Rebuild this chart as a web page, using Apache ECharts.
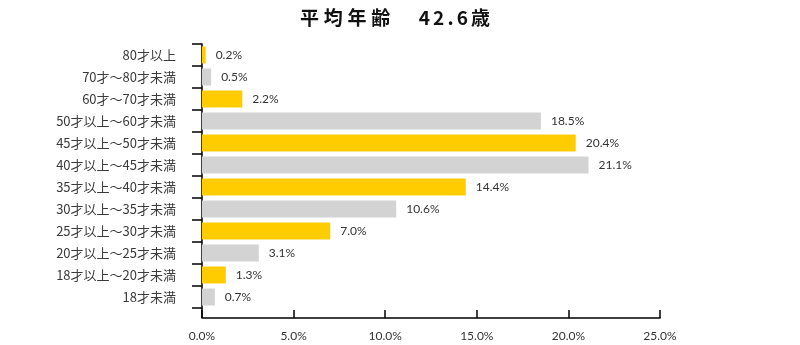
<!DOCTYPE html>
<html>
<head>
<meta charset="utf-8">
<script src="https://cdn.jsdelivr.net/npm/echarts@6/dist/echarts.min.js"></script>
<style>
  html, body { margin: 0; padding: 0; background: #fff; }
  #chart { width: 800px; height: 345px; }
</style>
</head>
<body>
<div id="chart"></div>
<script>
// Age groups, top to bottom
const categories = [
  '80才以上', '70才～80才未満', '60才～70才未満', '50才以上～60才未満',
  '45才以上～50才未満', '40才以上～45才未満', '35才以上～40才未満', '30才以上～35才未満',
  '25才以上～30才未満', '20才以上～25才未満', '18才以上～20才未満', '18才未満'
];
// Share of members in each group (%)
const shares = [0.2, 0.5, 2.2, 18.5, 20.4, 21.1, 14.4, 10.6, 7.0, 3.1, 1.3, 0.7];
// Average age shown in the heading
const averageAge = 42.6;

const GOLD = '#FFCC00';
const GRAY = '#D3D3D3';

// Spread characters out a little for the heading
const spaced = (s, gap) => Array.from(s).join(gap);
const heading = spaced('平均年齢', '\u2005') + '\u3000\u2002' + spaced(averageAge.toFixed(1) + '歳', '\u2006');

const chart = echarts.init(document.getElementById('chart'), null, { renderer: 'canvas' });

chart.setOption({
  animation: false,
  title: {
    text: heading,
    left: 390,
    textAlign: 'center',
    top: 3,
    textStyle: {
      fontFamily: '"Noto Sans CJK JP", sans-serif',
      fontSize: 19,
      fontWeight: 'bold',
      color: '#111'
    }
  },
  grid: { left: 202, right: 140, top: 44, bottom: 37, containLabel: false },
  xAxis: {
    type: 'value',
    min: 0,
    max: 25,
    interval: 5,
    offset: 10,
    splitLine: { show: false },
    axisLine: { show: true, lineStyle: { color: '#000', width: 1.5 } },
    axisTick: { show: true, inside: true, length: 8, lineStyle: { color: '#000', width: 1.5 } },
    axisLabel: {
      margin: 12,
      color: '#333',
      fontFamily: 'Lato, sans-serif',
      fontSize: 12,
      formatter: v => v.toFixed(1) + '%'
    }
  },
  yAxis: {
    type: 'category',
    inverse: true,
    data: categories,
    axisLine: { show: true, lineStyle: { color: '#000', width: 1.5 } },
    axisTick: { show: true, length: 10, lineStyle: { color: '#000', width: 1.5 } },
    axisLabel: {
      margin: 26,
      color: '#3a3a3a',
      fontFamily: '"Noto Sans CJK JP", sans-serif',
      fontWeight: 'normal',
      fontSize: 13
    }
  },
  graphic: [{
    // extend the vertical axis down to the offset horizontal axis
    type: 'line',
    shape: { x1: 202, y1: 308, x2: 202, y2: 318 },
    style: { stroke: '#000', lineWidth: 1.5 }
  }],
  series: [{
    type: 'bar',
    barWidth: 17,
    data: shares.map((v, i) => ({
      value: v,
      itemStyle: { color: i % 2 === 0 ? GOLD : GRAY }
    })),
    label: {
      show: true,
      position: 'right',
      distance: 10,
      color: '#333',
      fontFamily: 'Lato, sans-serif',
      fontSize: 12,
      formatter: p => p.value.toFixed(1) + '%'
    }
  }]
});
</script>
</body>
</html>
